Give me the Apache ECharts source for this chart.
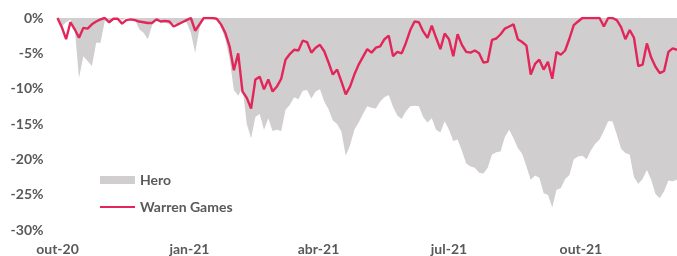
<!DOCTYPE html>
<html>
<head>
<meta charset="utf-8">
<script src="https://cdn.jsdelivr.net/npm/echarts@6/dist/echarts.min.js"></script>
<style>
  html, body { margin: 0; padding: 0; background: #fff; }
  #chart { width: 677px; height: 256px; }
</style>
</head>
<body>
<div id="chart"></div>
<script>
// drawdown series, one point every 3 days from 1 Oct 2020
const startDate = [2020, 9, 1]
const stepDays = 3

const hero = [
  0, -1.2, -0.6, -0.2, -1.5, -8.5, -5.4, -6.1, -6.8, -3.5,
  -3.5, -0.4, -0.8, -0.1, 0, -0.3, 0, 0, -0.3, -1.6,
  -2.1, -3.0, -1.0, -0.3, -0.6, -0.7, -0.8, -0.8, -0.8, -0.6,
  -0.6, -2.1, -4.9, -1.5, 0, 0, 0, 0, -1.2, -3.0,
  -5.8, -10.2, -11.0, -9.8, -15.0, -17.0, -14.0, -13.6, -15.8, -14.2,
  -16.0, -15.8, -16.0, -13.0, -12.3, -11.2, -11.5, -10.3, -10.2, -11.4,
  -10.4, -10.1, -11.8, -12.9, -14.5, -15.0, -16.1, -19.5, -18.0, -15.8,
  -14.8, -13.6, -12.5, -12.7, -12.8, -11.8, -11.2, -10.9, -12.6, -13.8,
  -14.3, -13.2, -12.5, -12.4, -12.5, -14.0, -14.8, -14.2, -15.8, -16.2,
  -14.6, -15.8, -17.4, -17.2, -18.8, -20.6, -21.0, -21.2, -21.9, -22.0,
  -21.2, -19.3, -19.0, -18.9, -16.8, -15.8, -17.0, -18.4, -19.2, -21.0,
  -22.9, -22.3, -22.6, -24.8, -25.0, -26.8, -24.3, -24.1, -22.8, -22.2,
  -20.0, -19.6, -19.5, -20.0, -18.7, -17.8, -17.2, -16.0, -14.6, -14.6,
  -16.5, -18.5, -19.1, -19.3, -22.5, -23.5, -22.8, -21.5, -22.9, -24.9,
  -25.5, -24.5, -23.0, -23.1, -22.9
]

const warren = [
  0, -1.3, -3.0, -0.6, -1.6, -2.8, -1.4, -1.5, -0.9, -0.5,
  -0.2, 0, -0.6, -0.1, -0.1, -0.8, -0.3, -0.2, -0.3, -0.5,
  -0.6, -0.7, -0.7, -0.2, -0.5, -0.4, -0.5, -1.2, -0.9, -0.6,
  -0.3, 0, -1.8, -0.9, 0, 0, 0, -0.1, -0.9, -2.1,
  -4.0, -7.4, -5.0, -10.4, -11.3, -12.8, -8.7, -8.3, -10.1, -8.7,
  -10.4, -9.7, -8.6, -5.9, -5.1, -4.5, -4.6, -3.2, -3.4, -4.9,
  -4.2, -3.8, -4.7, -6.3, -8.0, -7.3, -9.0, -10.8, -9.7, -8.0,
  -6.6, -5.5, -4.4, -4.9, -4.2, -4.0, -3.0, -2.5, -5.4, -4.8,
  -5.0, -3.5, -1.7, -0.5, -0.6, -1.9, -2.8, -1.1, -2.8, -4.4,
  -2.2, -3.0, -5.4, -2.3, -3.8, -4.8, -4.9, -4.6, -5.0, -6.3,
  -6.2, -3.1, -2.9, -2.3, -1.5, -1.2, -0.9, -3.0, -3.4, -3.9,
  -8.0, -6.5, -5.9, -7.3, -6.2, -8.6, -4.8, -5.2, -4.6, -2.9,
  -1.0, -0.5, 0, 0, 0, 0, 0, -1.2, 0, 0,
  -0.3, -1.3, -3.0, -1.7, -2.8, -6.8, -6.6, -3.6, -5.6, -6.9,
  -7.8, -7.5, -4.8, -4.3, -4.5
]

const tickDates = [[2020, 9, 1], [2021, 0, 1], [2021, 3, 1], [2021, 6, 1], [2021, 9, 1]]
const tickLabels = ['out-20', 'jan-21', 'abr-21', 'jul-21', 'out-21']

// x is counted in days since startDate
const t0 = Date.UTC(startDate[0], startDate[1], startDate[2])
const tickDays = tickDates.map(d => Math.round((Date.UTC(d[0], d[1], d[2]) - t0) / 86400000))

const heroData = hero.map((v, i) => [i * stepDays, v])
const warrenData = warren.map((v, i) => [i * stepDays, v])

const labelFont = {
  color: '#595959',
  fontWeight: 'bold',
  fontSize: 14,
  fontFamily: 'Lato'
}

const chart = echarts.init(document.getElementById('chart'))
chart.setOption({
  animation: false,
  grid: { left: 57.5, right: 0, top: 18, bottom: 26, containLabel: false },
  legend: [
    {
      data: [{ name: 'Hero', icon: 'rect' }],
      left: 100,
      top: 173,
      padding: 0,
      itemWidth: 35,
      itemHeight: 8,
      textStyle: labelFont
    },
    {
      data: [{ name: 'Warren Games', icon: 'rect' }],
      left: 100,
      top: 200,
      padding: 0,
      itemWidth: 35,
      itemHeight: 2,
      textStyle: labelFont
    }
  ],
  xAxis: {
    type: 'value',
    min: 0,
    max: (hero.length - 1) * stepDays,
    axisLine: { show: false },
    axisTick: { show: false },
    splitLine: { show: false },
    axisLabel: {
      ...labelFont,
      margin: 12,
      customValues: tickDays,
      formatter: v => tickLabels[tickDays.indexOf(v)] || ''
    }
  },
  yAxis: {
    type: 'value',
    min: -30,
    max: 0,
    interval: 5,
    axisLine: { show: false },
    axisTick: { show: false },
    splitLine: { show: false },
    axisLabel: {
      ...labelFont,
      margin: 14,
      formatter: v => v + '%'
    }
  },
  series: [
    {
      name: 'Hero',
      type: 'line',
      data: heroData,
      symbol: 'none',
      color: '#d0cecf',
      lineStyle: { width: 0 },
      areaStyle: { color: '#d0cecf', opacity: 1 },
      z: 1
    },
    {
      name: 'Warren Games',
      type: 'line',
      data: warrenData,
      symbol: 'none',
      color: '#e2265a',
      lineStyle: { width: 2.4, color: '#e2265a' },
      z: 2
    }
  ]
})
</script>
</body>
</html>
